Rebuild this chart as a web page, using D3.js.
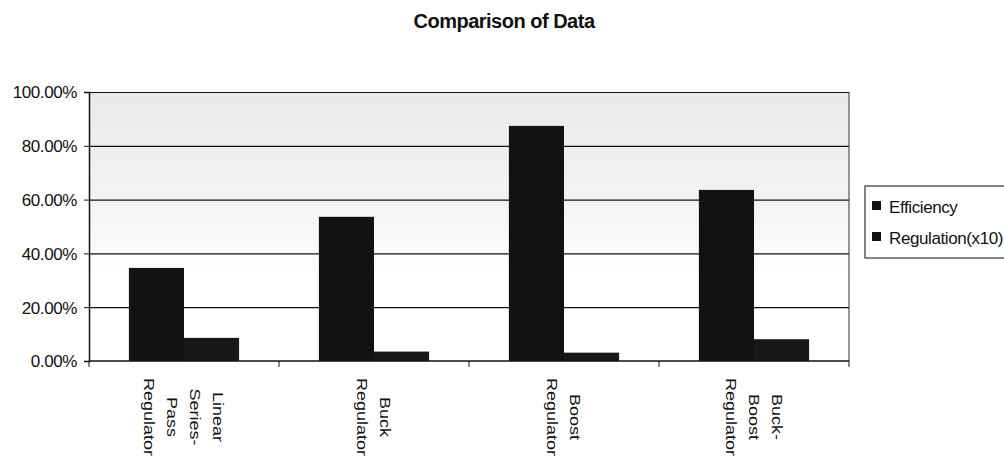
<!DOCTYPE html>
<html>
<head>
<meta charset="utf-8">
<script src="https://cdn.jsdelivr.net/npm/d3@7"></script>
<style>
  body { margin: 0; background: #fff; }
  text { font-family: "Liberation Sans", Arial, sans-serif; fill: #111; }
</style>
</head>
<body>
<div id="wrapper"></div>
<script>
// data
const categories = ["Linear Series-Pass Regulator", "Buck Regulator", "Boost Regulator", "Buck-Boost Regulator"]
const categoryLines = [
  ["Linear", "Series-", "Pass", "Regulator"],
  ["Buck", "Regulator"],
  ["Boost", "Regulator"],
  ["Buck-", "Boost", "Regulator"],
]
const seriesNames = ["Efficiency", "Regulation(x10)"]
const efficiency = [0.346, 0.536, 0.874, 0.636]
const regulation = [0.086, 0.035, 0.031, 0.081]
const yTicks = [0, 0.2, 0.4, 0.6, 0.8, 1.0]

const dms = {
  width: 1004,
  height: 460,
  margin: { top: 92, right: 155, bottom: 99, left: 89 },
}
dms.boundedWidth = dms.width - dms.margin.left - dms.margin.right
dms.boundedHeight = dms.height - dms.margin.top - dms.margin.bottom

const svg = d3.select("#wrapper")
  .append("svg")
  .attr("width", dms.width)
  .attr("height", dms.height)

const defs = svg.append("defs")
const grad = defs.append("linearGradient")
  .attr("id", "bgGrad")
  .attr("x1", 0).attr("y1", 0).attr("x2", 0).attr("y2", 1)
grad.append("stop").attr("offset", "0%").attr("stop-color", "#e9e9e9")
grad.append("stop").attr("offset", "40%").attr("stop-color", "#f3f3f3")
grad.append("stop").attr("offset", "70%").attr("stop-color", "#fff")

// title
svg.append("text")
  .attr("x", 504)
  .attr("y", 28)
  .attr("text-anchor", "middle")
  .style("font-size", "20px")
  .style("font-weight", "bold")
  .style("letter-spacing", "-0.5px")
  .text("Comparison of Data")

const bounds = svg.append("g")
  .attr("transform", `translate(${dms.margin.left},${dms.margin.top})`)

// scales
const x0 = d3.scaleBand()
  .domain(categories)
  .range([0, dms.boundedWidth])
  .paddingInner(0.42)
  .paddingOuter(0.21)

const x1 = d3.scaleBand()
  .domain(seriesNames)
  .range([0, x0.bandwidth()])

const yScale = d3.scaleLinear()
  .domain([0, 1])
  .range([dms.boundedHeight, 0])

// plot background
bounds.append("rect")
  .attr("width", dms.boundedWidth)
  .attr("height", dms.boundedHeight)
  .attr("fill", "url(#bgGrad)")

// gridlines
bounds.append("g")
  .selectAll("line")
  .data(yTicks.slice(1))
  .join("line")
  .attr("x1", 0)
  .attr("x2", dms.boundedWidth)
  .attr("y1", d => yScale(d) + 0.5)
  .attr("y2", d => yScale(d) + 0.5)
  .attr("stroke", "#111")
  .attr("stroke-width", 1.2)

// bars
const rows = categories.map((c, i) => ({ cat: c, values: [efficiency[i], regulation[i]] }))

bounds.append("g")
  .selectAll("g")
  .data(rows)
  .join("g")
  .attr("transform", d => `translate(${x0(d.cat)},0)`)
  .selectAll("rect")
  .data(d => d.values.map((v, j) => ({ key: seriesNames[j], value: v })))
  .join("rect")
  .attr("x", d => x1(d.key))
  .attr("y", d => yScale(d.value))
  .attr("width", x1.bandwidth())
  .attr("height", d => dms.boundedHeight - yScale(d.value))
  .attr("fill", (d, j) => j == 0 ? "#121212" : "#181818")

// right border of plot area
bounds.append("line")
  .attr("x1", dms.boundedWidth).attr("x2", dms.boundedWidth)
  .attr("y1", 0).attr("y2", dms.boundedHeight)
  .attr("stroke", "#333")

// y axis
const yAxis = bounds.append("g")
  .call(d3.axisLeft(yScale)
    .tickValues(yTicks)
    .tickSize(5)
    .tickFormat(d3.format(".2%")))
yAxis.select(".domain").attr("stroke", "#111").attr("stroke-width", 1.5)
yAxis.selectAll(".tick line").attr("stroke", "#111")
yAxis.selectAll(".tick text")
  .attr("x", -12)
  .attr("dy", "0.35em")
  .style("font-size", "17px")
  .style("letter-spacing", "-0.4px")
  .style("font-family", "'Liberation Sans', Arial, sans-serif")
  .attr("fill", "#111")

// x axis with ticks on category boundaries
const xAxis = bounds.append("g")
  .attr("transform", `translate(0,${dms.boundedHeight})`)
xAxis.append("line")
  .attr("x1", 0).attr("x2", dms.boundedWidth)
  .attr("stroke", "#111")
  .attr("stroke-width", 1.5)
const boundaries = categories.map(c => x0(c) - x0.step() * x0.paddingInner() / 2)
boundaries.push(dms.boundedWidth)
xAxis.selectAll(".xtick")
  .data(boundaries)
  .join("line")
  .attr("class", "xtick")
  .attr("x1", d => d).attr("x2", d => d)
  .attr("y1", 0).attr("y2", 6)
  .attr("stroke", "#111")

// category labels, rotated 90deg, multi-line (first line on the right)
const lineGap = 23
const labels = xAxis.selectAll(".xlabel")
  .data(categories)
  .join("g")
  .attr("class", "xlabel")
  .attr("transform", d => `translate(${x0(d) + x0.bandwidth() / 2},56) rotate(90)`)

labels.each(function (d, i) {
  const lines = categoryLines[i]
  const n = lines.length
  d3.select(this).selectAll("text")
    .data(lines)
    .join("text")
    .attr("text-anchor", "middle")
    .attr("x", 0)
    .attr("y", (l, k) => k * lineGap - (n - 1) / 2 * lineGap)
    .attr("transform", "scale(1.2,1)")
    .attr("dy", "0.35em")
    .style("font-size", "15px")
    .text(l => l)
})

// legend
const legend = svg.append("g")
  .attr("transform", "translate(865,186)")
legend.append("rect")
  .attr("width", 150)
  .attr("height", 72)
  .attr("fill", "#fff")
  .attr("stroke", "#333")
  .attr("stroke-width", 1.2)
const items = legend.selectAll(".item")
  .data(seriesNames)
  .join("g")
  .attr("class", "item")
  .attr("transform", (d, i) => `translate(7,${21 + i * 31})`)
items.append("rect")
  .attr("x", 0).attr("y", -6)
  .attr("width", 9).attr("height", 9)
  .attr("fill", "#121212")
items.append("text")
  .attr("x", 17)
  .attr("dy", "0.35em")
  .style("font-size", "17px")
  .style("letter-spacing", "-0.4px")
  .text(d => d)
</script>
</body>
</html>
